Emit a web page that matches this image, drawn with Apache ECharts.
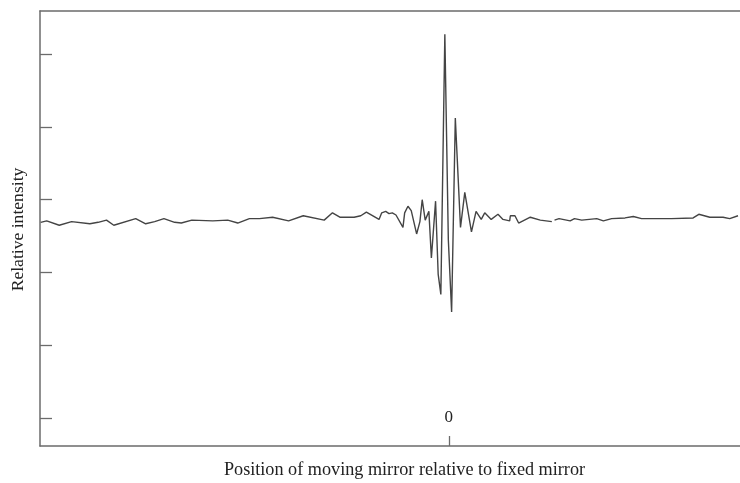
<!DOCTYPE html>
<html>
<head>
<meta charset="utf-8">
<script src="https://cdn.jsdelivr.net/npm/echarts@6/dist/echarts.min.js"></script>
<style>
  html, body { margin: 0; padding: 0; background: #fff; }
  #chart { width: 740px; height: 483px; }
</style>
</head>
<body>
<div id="chart"></div>
<script>
// mirror position (arbitrary units, 0 = zero path difference)
var positions = [
  -40.93, -40.33, -39.07, -37.83, -36, -35.17, -34.33, -33.6, -31.4, -30.4,
  -29.5, -28.57, -27.5, -26.83, -25.77, -23.67, -22.17, -21.17, -20, -19,
  -17.67, -16.07, -14.6, -12.5, -11.67, -10.93, -9.5, -8.83, -8.27, -7,
  -6.73, -6.33, -6, -5.67, -5.3, -4.6, -4.43, -4.1, -3.77, -3.23,
  -2.9, -2.67, -2.37, -2, -1.75, -1.33, -1.07, -0.8, -0.4, -0.05,
  0.28, 0.65, 1.17, 1.6, 2.27, 2.73, 3.25, 3.6, 4.25, 4.93,
  5.43, 6.1, 6.17, 6.63, 7, 8.17, 9.17, 10.33, 10.45, 10.6,
  11.05, 12.17, 12.6, 13.33, 14.83, 15.5, 16.33, 17.67, 18.5, 19.33,
  22.33, 24.5, 25.07, 26.17, 27.5, 28.17, 29
];
// detector signal (null = gap in the trace)
var intensity = [
  2.69, 2.71, 2.65, 2.70, 2.67, 2.69, 2.72, 2.65, 2.74, 2.67,
  2.70, 2.74, 2.69, 2.68, 2.72, 2.71, 2.72, 2.68, 2.74, 2.74,
  2.76, 2.71, 2.78, 2.72, 2.82, 2.76, 2.76, 2.78, 2.83, 2.73,
  2.82, 2.84, 2.81, 2.82, 2.79, 2.62, 2.82, 2.91, 2.85, 2.53,
  2.70, 3.00, 2.72, 2.84, 2.20, 2.98, 1.98, 1.70, 5.27, 2.45,
  1.46, 4.12, 2.62, 3.10, 2.56, 2.84, 2.73, 2.82, 2.73, 2.80,
  2.73, 2.71, 2.78, 2.78, 2.68, 2.76, 2.72, 2.70, null, 2.72,
  2.74, 2.71, 2.74, 2.72, 2.74, 2.71, 2.74, 2.75, 2.77, 2.74,
  2.74, 2.75, 2.80, 2.76, 2.76, 2.74, 2.78
];
var yTicks = [0, 1, 2, 3, 4, 5];
var xTicks = [0];

var serif = "'Liberation Serif', 'Times New Roman', serif";
var frameColor = '#6b6b6b';

var chart = echarts.init(document.getElementById('chart'));
chart.setOption({
  animation: false,
  grid: { left: 40, top: 11, right: -2, bottom: 37 },
  xAxis: [
    {
      type: 'value',
      min: -41, max: 29.2,
      axisLine: { onZero: false, lineStyle: { color: frameColor, width: 1.5 } },
      axisTick: { inside: true, length: 10, customValues: xTicks, lineStyle: { color: frameColor, width: 1.3 } },
      axisLabel: {
        inside: true, margin: 20, customValues: xTicks,
        fontFamily: serif, fontSize: 17, color: '#222'
      },
      splitLine: { show: false }
    },
    {
      // top frame line only
      type: 'value', position: 'top',
      min: -41, max: 29.2,
      axisLine: { onZero: false, lineStyle: { color: frameColor, width: 1.5 } },
      axisTick: { show: false },
      axisLabel: { show: false },
      splitLine: { show: false }
    }
  ],
  yAxis: {
    type: 'value',
    min: -0.38, max: 5.59,
    axisLine: { show: true, onZero: false, lineStyle: { color: frameColor, width: 1.5 } },
    axisTick: { show: true, inside: true, length: 12, customValues: yTicks, lineStyle: { color: frameColor, width: 1.3 } },
    axisLabel: { show: false },
    splitLine: { show: false }
  },
  graphic: [
    {
      type: 'text', x: 18, y: 229.5, rotation: Math.PI / 2,
      style: {
        text: 'Relative intensity', fontFamily: serif, fontSize: 17.6,
        fill: '#222', align: 'center', verticalAlign: 'middle'
      }
    },
    {
      type: 'text', x: 404.5, y: 470,
      style: {
        text: 'Position of moving mirror relative to fixed mirror', fontFamily: serif, fontSize: 18.2,
        fill: '#222', align: 'center', verticalAlign: 'middle'
      }
    }
  ],
  series: [
    {
      type: 'line',
      xAxisIndex: 0,
      data: positions.map(function (x, i) {
        return [x, intensity[i] === null ? '-' : intensity[i]];
      }),
      showSymbol: false,
      connectNulls: false,
      lineStyle: { color: '#444', width: 1.4 }
    }
  ]
});
</script>
</body>
</html>
